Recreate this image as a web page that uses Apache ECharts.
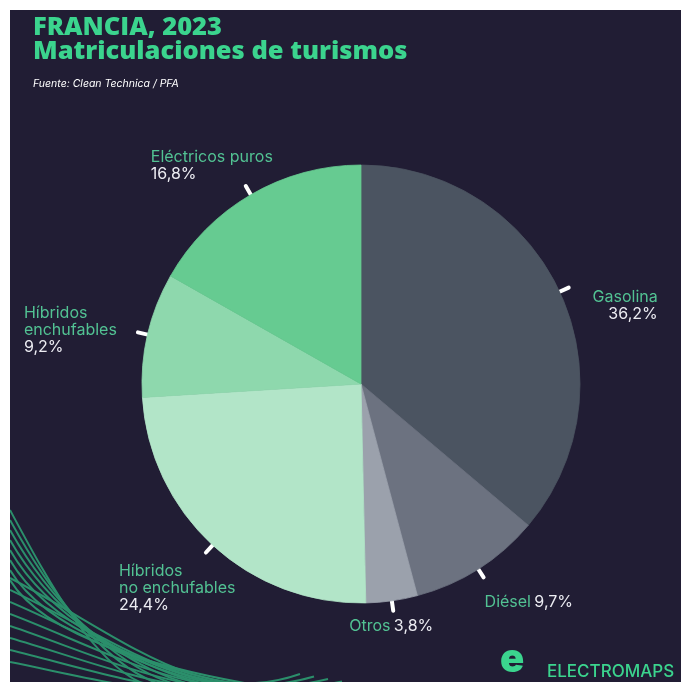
<!DOCTYPE html>
<html><head><meta charset="utf-8">
<script src="https://cdn.jsdelivr.net/npm/echarts@6/dist/echarts.min.js"></script>
<style>html,body{margin:0;padding:0;background:#fff;overflow:hidden}#c{position:absolute;left:10px;top:10px;width:671px;height:672px}</style>
</head><body><div id="c"></div>
<script>
// ---- data ----
const categories = ['Gasolina', 'Diésel', 'Otros', 'Híbridos\nno enchufables', 'Híbridos\nenchufables', 'Eléctricos puros'];
const shares = [36.2, 9.7, 3.8, 24.4, 9.2, 16.8];
const titleLines = ['FRANCIA, 2023', 'Matriculaciones de turismos'];
const sourceText = 'Fuente: Clean Technica / PFA';
const brandText = 'ELECTROMAPS';

// ---- styles ----
const sliceColors = ['#4b5461', '#6c7280', '#9ba1ac', '#b2e5c8', '#8ed8ad', '#66cb91'];
const BG = '#211d34';
const GREEN = '#3bd48e';
const NAME_C = '#52c293';
const VAL_C = '#ececf2';
const FONT = 'Inter, "Noto Sans", sans-serif';
const TITLE_FONT = '"Open Sans", Inter, sans-serif';
// label placement relative to the end of each tick
const labelPlace = [
  { align: 'right', dx: 89, dy: 1, inline: false },
  { align: 'left', dx: 1, dy: 16, inline: true },
  { align: 'center', dx: -2, dy: 7, inline: true },
  { align: 'left', dx: -87, dy: 10, inline: false },
  { align: 'left', dx: -114, dy: -28, inline: false },
  { align: 'left', dx: -95, dy: -37, inline: false }
];

const fmt = v => v.toFixed(1).replace('.', ',') + '%';

const chart = echarts.init(document.getElementById('c'), null, { renderer: 'canvas' });

const LINE_C = '#2b8f6b';
const curves = [];
for (let k = 0; k < 8; k++) {
  // steep family
  curves.push({
    type: 'bezierCurve', silent: true, z: 0,
    shape: { x1: 0, y1: 500 + k * 10, cpx1: 35, cpy1: 565 + k * 9, cpx2: 85 + k * 10, cpy2: 660, x2: 140 + k * 16, y2: 676 },
    style: { stroke: LINE_C, lineWidth: 2, fill: null }
  });
  // shallow family with wave at bottom
  curves.push({
    type: 'bezierCurve', silent: true, z: 0,
    shape: { x1: 0, y1: 568 + k * 12, cpx1: 110, cpy1: 625 + k * 7, cpx2: 190, cpy2: 700, x2: 290 + k * 14, y2: 664 + k * 2.5 },
    style: { stroke: LINE_C, lineWidth: 2, fill: null }
  });
}

chart.setOption({
  backgroundColor: BG,
  animation: false,
  title: {
    text: titleLines.join('\n'),
    left: 23, top: 6, padding: 0,
    textStyle: { color: GREEN, fontSize: 25.5, fontWeight: 800, lineHeight: 24, fontFamily: TITLE_FONT }
  },
  graphic: [
    ...curves,
    { type: 'text', left: 23, top: 68, style: { text: sourceText, fill: '#ffffff', font: 'italic 10.5px ' + FONT } },
    { type: 'text', left: 490, top: 630, style: { text: 'e', fill: GREEN, font: '900 40px ' + FONT } },
    { type: 'text', left: 537, top: 653, style: { text: brandText, fill: GREEN, font: '500 17px ' + FONT } }
  ],
  series: [{
    type: 'pie',
    center: [351, 374],
    radius: 219,
    startAngle: 90,
    clockwise: true,
    avoidLabelOverlap: false,
    emphasis: { disabled: true },
    data: categories.map((c, i) => ({
      name: c, value: shares[i],
      itemStyle: { color: sliceColors[i], borderColor: sliceColors[i], borderWidth: 0.8 }
    })),
    label: {
      show: true,
      position: 'outside',
      alignTo: 'none',
      fontFamily: FONT,
      formatter: p => {
        const v = fmt(p.value);
        if (labelPlace[p.dataIndex].inline) return '{n|' + p.name + '} {v|' + v + '}';
        return p.name.split('\n').map(s => '{n|' + s + '}').join('\n') + '\n{v|' + v + '}';
      },
      rich: {
        n: { color: NAME_C, fontSize: 16, lineHeight: 17, fontFamily: FONT },
        v: { color: VAL_C, fontSize: 16, lineHeight: 17, fontFamily: FONT }
      }
    },
    labelLine: {
      show: true, length: 10, length2: 0, smooth: false,
      lineStyle: { color: '#ffffff', width: 4, cap: 'round' }
    },
    labelLayout: params => {
      const pts = params.labelLinePoints;
      const end = pts[pts.length - 1];
      const pl = labelPlace[params.dataIndex];
      return {
        x: end[0] + pl.dx,
        y: end[1] + pl.dy,
        align: pl.align,
        verticalAlign: 'top',
        labelLinePoints: pts
      };
    }
  }]
});
</script></body></html>
